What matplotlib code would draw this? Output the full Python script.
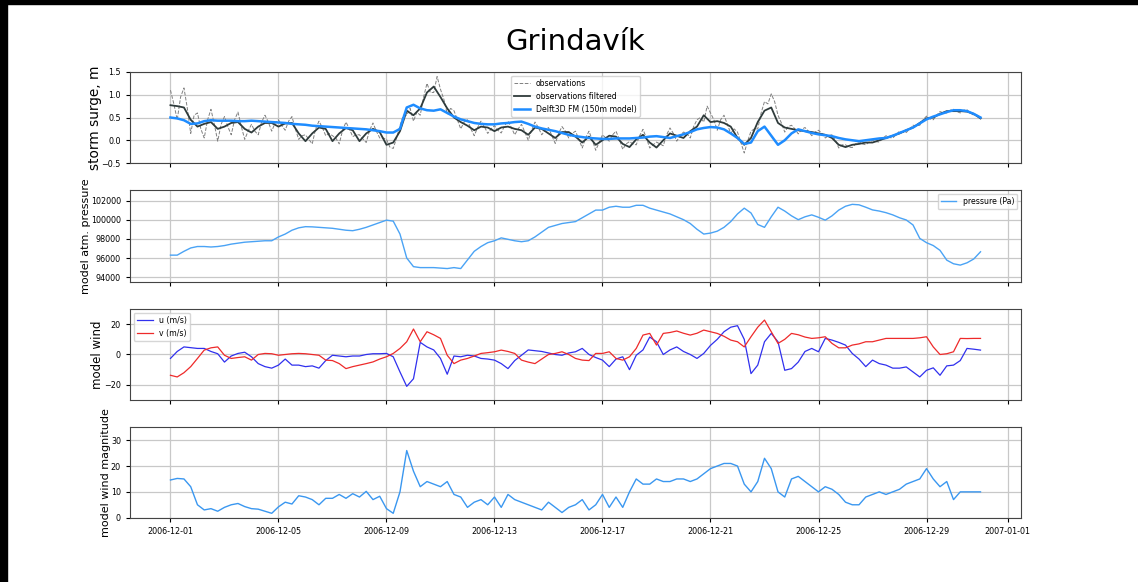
import numpy as np
import matplotlib
matplotlib.use("Agg")
import matplotlib.pyplot as plt
import matplotlib.dates as mdates
from matplotlib.patches import Rectangle

# time grids (6-hourly for model/filtered, 3-hourly for raw observations)
t0 = np.datetime64("2006-12-01T00:00")
t6 = t0 + np.arange(121) * np.timedelta64(6, "h")
t3 = t0 + np.arange(241) * np.timedelta64(3, "h")

# storm surge, m  (raw observations, 3-hourly)
obs = [
    1.10, 0.80, 0.45, 0.95, 1.15, 0.70, 0.15, 0.55,
    0.60, 0.25, 0.05, 0.45, 0.68, 0.35, -0.02, 0.35,
    0.52, 0.30, 0.12, 0.45, 0.62, 0.30, 0.02, 0.20,
    0.35, 0.20, 0.12, 0.40, 0.55, 0.40, 0.20, 0.38,
    0.45, 0.32, 0.22, 0.42, 0.52, 0.25, 0.02, 0.10,
    0.12, 0.02, -0.08, 0.25, 0.42, 0.28, 0.10, 0.15,
    0.10, 0.05, -0.08, 0.22, 0.40, 0.25, 0.08, 0.12,
    0.12, 0.03, -0.05, 0.22, 0.38, 0.20, 0.05, 0.05,
    0.02, -0.15, -0.18, 0.05, 0.32, 0.55, 0.55, 0.70,
    0.42, 0.62, 0.55, 0.95, 1.25, 1.05, 1.05, 1.40,
    1.12, 0.90, 0.58, 0.70, 0.65, 0.45, 0.25, 0.40,
    0.45, 0.25, 0.10, 0.28, 0.42, 0.30, 0.15, 0.25,
    0.32, 0.22, 0.16, 0.32, 0.42, 0.28, 0.12, 0.25,
    0.35, 0.18, 0.00, 0.22, 0.40, 0.28, 0.12, 0.22,
    0.28, 0.10, -0.07, 0.15, 0.30, 0.20, 0.05, 0.15,
    0.20, 0.02, -0.17, 0.05, 0.20, 0.00, -0.22, -0.05,
    0.12, 0.05, -0.02, 0.12, 0.20, 0.02, -0.20, -0.08,
    -0.03, -0.08, -0.10, 0.10, 0.24, 0.05, -0.17, -0.10,
    -0.04, -0.08, -0.12, 0.12, 0.27, 0.15, -0.02, 0.10,
    0.18, 0.15, 0.05, 0.30, 0.45, 0.50, 0.40, 0.75,
    0.60, 0.45, 0.22, 0.45, 0.55, 0.35, 0.15, 0.25,
    0.18, -0.05, -0.28, -0.02, 0.20, 0.25, 0.25, 0.60,
    0.85, 0.80, 1.02, 0.85, 0.55, 0.38, 0.18, 0.30,
    0.33, 0.25, 0.14, 0.24, 0.28, 0.20, 0.10, 0.18,
    0.22, 0.15, 0.05, 0.10, 0.12, 0.00, -0.17, -0.10,
    -0.10, -0.15, -0.16, -0.08, -0.03, -0.08, -0.10, -0.04,
    0.00, -0.03, -0.04, 0.04, 0.10, 0.06, 0.05, 0.12,
    0.20, 0.18, 0.17, 0.25, 0.33, 0.32, 0.33, 0.45,
    0.53, 0.47, 0.45, 0.55, 0.63, 0.60, 0.60, 0.66,
    0.68, 0.63, 0.60, 0.66, 0.67, 0.60, 0.55, 0.55,
    0.50,
]

# filtered observations, 6-hourly
obs_filtered = [
    0.77, 0.75, 0.72, 0.45, 0.30, 0.36, 0.40, 0.25,
    0.30, 0.38, 0.40, 0.25, 0.17, 0.30, 0.38, 0.38,
    0.30, 0.37, 0.38, 0.15, -0.02, 0.15, 0.28, 0.25,
    -0.02, 0.15, 0.27, 0.22, -0.02, 0.15, 0.25, 0.18,
    -0.10, -0.05, 0.20, 0.65, 0.55, 0.70, 1.05, 1.18,
    0.95, 0.70, 0.50, 0.40, 0.32, 0.22, 0.30, 0.28,
    0.20, 0.28, 0.30, 0.25, 0.22, 0.12, 0.28, 0.25,
    0.15, 0.05, 0.18, 0.18, 0.08, -0.05, 0.08, -0.10,
    0.00, 0.10, 0.08, -0.08, -0.15, 0.02, 0.12, -0.05,
    -0.16, 0.00, 0.15, 0.10, 0.05, 0.20, 0.30, 0.55,
    0.40, 0.42, 0.38, 0.30, 0.05, -0.10, 0.05, 0.40,
    0.65, 0.72, 0.38, 0.28, 0.25, 0.22, 0.20, 0.18,
    0.15, 0.12, 0.05, -0.10, -0.15, -0.10, -0.08, -0.05,
    -0.05, 0.00, 0.05, 0.10, 0.15, 0.22, 0.28, 0.38,
    0.48, 0.50, 0.58, 0.64, 0.64, 0.64, 0.63, 0.58,
    0.48,
]

# Delft3D FM (150m model), 6-hourly
model = [
    0.50, 0.48, 0.44, 0.36, 0.37, 0.42, 0.44, 0.43,
    0.43, 0.43, 0.42, 0.42, 0.43, 0.42, 0.41, 0.40,
    0.39, 0.38, 0.36, 0.35, 0.34, 0.32, 0.31, 0.30,
    0.29, 0.28, 0.27, 0.26, 0.25, 0.24, 0.22, 0.20,
    0.17, 0.17, 0.25, 0.72, 0.78, 0.70, 0.66, 0.65,
    0.68, 0.60, 0.52, 0.46, 0.42, 0.38, 0.36, 0.35,
    0.35, 0.37, 0.38, 0.40, 0.41, 0.36, 0.30, 0.26,
    0.23, 0.20, 0.16, 0.12, 0.09, 0.07, 0.05, 0.04,
    0.03, 0.03, 0.04, 0.04, 0.04, 0.05, 0.06, 0.08,
    0.09, 0.07, 0.05, 0.09, 0.13, 0.18, 0.24, 0.27,
    0.29, 0.28, 0.24, 0.15, 0.05, -0.08, -0.05, 0.20,
    0.30, 0.10, -0.10, 0.00, 0.15, 0.24, 0.20, 0.16,
    0.13, 0.11, 0.09, 0.05, 0.02, 0.00, -0.02, 0.00,
    0.02, 0.04, 0.05, 0.10, 0.16, 0.22, 0.28, 0.37,
    0.46, 0.52, 0.57, 0.62, 0.66, 0.66, 0.64, 0.58,
    0.50,
]

# model atmospheric pressure (Pa), 6-hourly
pressure = [
    96300, 96300, 96700, 97050, 97200, 97200, 97150, 97200,
    97300, 97450, 97550, 97650, 97700, 97750, 97800, 97800,
    98200, 98500, 98900, 99150, 99270, 99250, 99200, 99150,
    99100, 99000, 98900, 98850, 99000, 99200, 99450, 99700,
    99950, 99850, 98500, 96000, 95100, 95000, 95000, 95000,
    94950, 94900, 95000, 94900, 95800, 96700, 97200, 97600,
    97800, 98100, 97950, 97800, 97700, 97800, 98200, 98700,
    99200, 99400, 99600, 99700, 99800, 100200, 100600, 101000,
    101000, 101300, 101400, 101300, 101300, 101500, 101500, 101200,
    101000, 100800, 100600, 100300, 100000, 99600, 99000, 98500,
    98600, 98800, 99200, 99800, 100600, 101200, 100700, 99500,
    99200, 100300, 101300, 100900, 100400, 100000, 100300, 100500,
    100250, 99950, 100400, 101000, 101400, 101600, 101550, 101300,
    101020, 100900, 100730, 100500, 100200, 99970, 99450, 98050,
    97600, 97300, 96800, 95780, 95400, 95260, 95500, 95900,
    96650,
]

# model wind components (m/s), 6-hourly
wind_u = [
    -2.6, 2.0, 5.0, 4.5, 4.0, 4.0, 2.0, 0.5,
    -5.0, -1.0, 0.7, 1.5, -1.5, -6.0, -8.0, -9.0,
    -7.0, -3.0, -7.0, -7.0, -8.0, -7.5, -9.0, -4.0,
    -0.5, -1.0, -1.5, -1.0, -1.0, 0.0, 0.5, 0.5,
    0.7, -1.5, -11.5, -21.0, -16.0, 8.0, 5.0, 3.0,
    -2.6, -13.0, -1.0, -1.5, -0.5, -1.0, -2.6, -3.0,
    -3.7, -6.0, -9.3, -4.0, -0.5, 3.0, 2.5, 2.0,
    1.0, 0.0, -0.5, 1.0, 1.8, 4.0, 0.0, -2.0,
    -3.7, -8.0, -3.0, -1.5, -10.0, -0.5, 3.0, 11.5,
    8.4, 0.0, 3.0, 5.0, 2.0, 0.0, -2.6, 0.7,
    6.0, 10.0, 15.0, 18.0, 19.0, 10.0, -12.6, -7.0,
    8.4, 13.9, 8.4, -10.4, -9.3, -5.0, 2.0, 4.0,
    1.8, 10.6, 9.5, 8.0, 6.2, 0.7, -3.0, -8.0,
    -3.7, -6.0, -7.0, -9.0, -9.0, -8.2, -11.5, -14.8,
    -10.4, -8.8, -13.7, -7.5, -7.0, -4.0, 4.0, 3.5,
    2.9,
]
wind_v = [
    -13.7, -14.8, -12.0, -8.0, -2.6, 2.9, 4.4, 5.0,
    -0.5, -2.6, -2.0, -1.5, -3.7, 0.0, 0.7, 0.5,
    -0.5, 0.0, 0.5, 0.7, 0.5, 0.0, -0.5, -3.7,
    -4.0, -6.0, -9.3, -8.0, -7.0, -6.0, -4.9, -3.0,
    -1.5, 0.7, 4.0, 8.4, 16.8, 8.4, 15.0, 13.0,
    10.6, -0.5, -6.0, -3.7, -2.6, -1.0, 0.7, 1.2,
    1.8, 2.9, 2.0, 0.7, -3.7, -5.0, -6.0, -3.0,
    0.0, 0.7, 1.8, 0.0, -2.6, -3.7, -4.0, 0.7,
    0.7, 1.8, -2.6, -3.7, -1.5, 4.0, 12.8, 13.9,
    6.2, 13.9, 14.5, 15.5, 14.0, 12.8, 14.0, 16.1,
    15.0, 13.9, 12.0, 9.5, 8.4, 5.0, 11.7, 18.0,
    22.7, 15.0, 7.3, 10.0, 13.9, 13.0, 11.5, 10.6,
    11.0, 11.7, 7.3, 4.4, 4.4, 6.2, 7.0, 8.4,
    8.4, 9.5, 10.6, 10.6, 10.6, 10.6, 10.6, 11.0,
    11.7, 5.0, 0.0, 0.5, 1.8, 10.6, 10.5, 10.6,
    10.6,
]

# model wind magnitude (m/s), 6-hourly
wind_mag = [
    14.6, 15.2, 15.0, 12.0, 5.0, 3.0, 3.5, 2.5,
    4.0, 5.0, 5.5, 4.3, 3.5, 3.3, 2.5, 1.7,
    4.2, 6.0, 5.3, 8.5, 8.0, 7.0, 5.0, 7.5,
    7.5, 9.0, 7.5, 9.3, 8.0, 10.2, 7.0, 8.3,
    3.5, 1.7, 10.0, 26.0, 18.0, 12.0, 14.0, 13.0,
    12.0, 14.0, 9.0, 8.0, 4.0, 6.0, 7.0, 5.0,
    8.0, 4.0, 9.0, 7.0, 6.0, 5.0, 4.0, 3.0,
    6.0, 4.0, 2.0, 4.0, 5.0, 7.0, 3.0, 5.0,
    9.0, 4.0, 8.0, 4.0, 10.0, 15.0, 13.0, 13.0,
    15.0, 14.0, 14.0, 15.0, 15.0, 14.0, 15.0, 17.0,
    19.0, 20.0, 21.0, 21.0, 20.0, 13.0, 10.0, 14.0,
    23.0, 19.0, 10.0, 8.0, 15.0, 16.0, 14.0, 12.0,
    10.0, 12.0, 11.0, 9.0, 6.0, 5.0, 5.0, 8.0,
    9.0, 10.0, 9.0, 10.0, 11.0, 13.0, 14.0, 15.0,
    19.0, 15.0, 12.0, 14.0, 7.0, 10.0, 10.0, 10.0,
    10.0,
]

fig, axes = plt.subplots(4, 1, sharex=True, figsize=(11.38, 5.82), dpi=100)
ax1, ax2, ax3, ax4 = axes
ax1.set_position([0.1142, 0.7199, 0.783, 0.1564])
ax2.set_position([0.1142, 0.5155, 0.783, 0.1581])
ax3.set_position([0.1142, 0.3127, 0.783, 0.1564])
ax4.set_position([0.1142, 0.1105, 0.783, 0.1553])

fs_tick = 5.8
fs_leg = 5.6

# storm surge
ax1.plot(t3, obs, color="grey", linestyle="--", linewidth=0.7, label="observations")
ax1.plot(t6, obs_filtered, color="#2f3b3b", linewidth=1.3, label="observations filtered")
ax1.plot(t6, model, color="#1e8cff", linewidth=1.8, label="Delft3D FM (150m model)")
ax1.set_ylim(-0.5, 1.5)
ax1.set_yticks([-0.5, 0.0, 0.5, 1.0, 1.5])
ax1.set_ylabel("storm surge, m", fontsize=9.8, labelpad=0)
ax1.legend(loc="upper center", fontsize=fs_leg)

# pressure
ax2.plot(t6, pressure, color="#4aa3f5", linewidth=1.0, label="pressure (Pa)")
ax2.set_ylim(93500, 103100)
ax2.set_yticks([94000, 96000, 98000, 100000, 102000])
ax2.set_ylabel("model atm. pressure", fontsize=8, labelpad=0)
ax2.legend(loc="upper right", fontsize=fs_leg)

# wind components
ax3.plot(t6, wind_u, color="#3030ee", linewidth=0.9, label="u (m/s)")
ax3.plot(t6, wind_v, color="#ee2a2a", linewidth=0.9, label="v (m/s)")
ax3.set_ylim(-30, 30)
ax3.set_yticks([-20, 0, 20])
ax3.set_ylabel("model wind", fontsize=8.5, labelpad=0)
ax3.legend(loc="upper left", fontsize=fs_leg)

# wind magnitude
ax4.plot(t6, wind_mag, color="#3a97f0", linewidth=1.0)
ax4.set_ylim(0, 35)
ax4.set_yticks([0, 10, 20, 30])
ax4.set_ylabel("model wind magnitude", fontsize=8, labelpad=0)

ax4.xaxis.set_major_locator(mdates.DayLocator(bymonthday=[1, 5, 9, 13, 17, 21, 25, 29]))
ax4.xaxis.set_major_formatter(mdates.DateFormatter("%Y-%m-%d"))

for ax in axes:
    ax.grid(True, color="#c8c8c8", linewidth=0.9)
    ax.tick_params(labelsize=fs_tick, length=3, width=0.8)
    for sp in ax.spines.values():
        sp.set_color("#444444")

fig.suptitle("Grindavík", fontsize=21, x=0.5057, y=0.952)

# black frame on the left and top of the screenshot
fig.add_artist(Rectangle((0, 0), 7 / 1138, 1, transform=fig.transFigure, color="black", zorder=10))
fig.add_artist(Rectangle((0, 1 - 4 / 582), 1, 4 / 582, transform=fig.transFigure, color="black", zorder=10))

fig.savefig("out.png", dpi=100)
